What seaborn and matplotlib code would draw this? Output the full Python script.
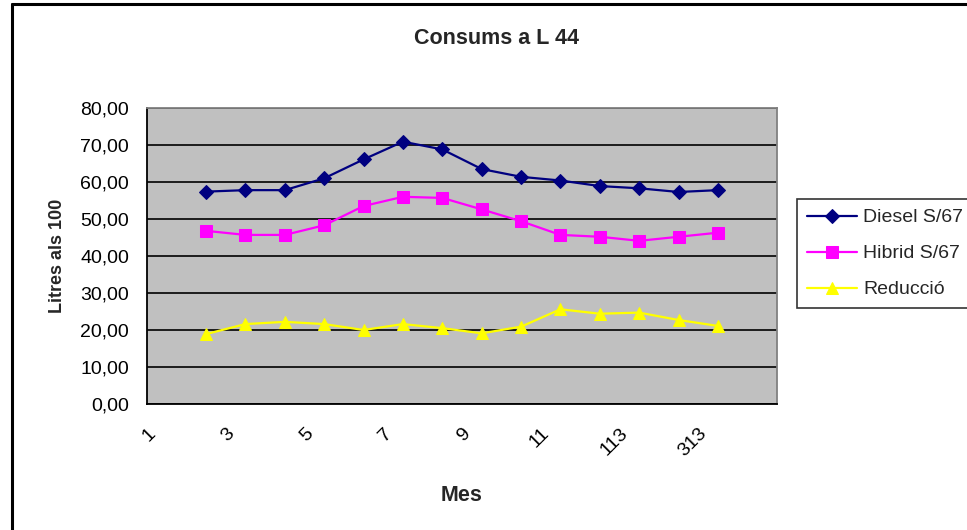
import numpy as np
import pandas as pd
import matplotlib
matplotlib.use("Agg")
import matplotlib.pyplot as plt
from matplotlib.lines import Line2D
from matplotlib.ticker import FuncFormatter, FixedLocator
import seaborn as sns

# Monthly consumption on line 44 (litres per 100 km)
diesel = [57.4, 57.8, 57.8, 61.0, 66.1, 70.9, 68.8, 63.5, 61.4, 60.4, 58.9, 58.3, 57.3, 57.8]
hibrid = [46.8, 45.7, 45.7, 48.3, 53.5, 56.0, 55.7, 52.6, 49.4, 45.7, 45.2, 44.1, 45.2, 46.3]
reduccio = [18.9, 21.6, 22.2, 21.6, 20.0, 21.6, 20.5, 19.1, 20.9, 25.6, 24.4, 24.7, 22.7, 21.1]
series_names = ["Diesel S/67", "Hibrid S/67", "Reducció"]
month_labels = ["1", "3", "5", "7", "9", "11", "113", "313"]

sns.set_theme(style="white")
plt.rcParams["font.family"] = ["Liberation Sans", "DejaVu Sans"]

fig = plt.figure(figsize=(9.67, 5.30), dpi=100)
ax = fig.add_axes([147 / 967, 1 - 404 / 530, 630 / 967, 296 / 530])

n_cat = len(diesel) + 2
xpos = np.arange(len(diesel)) + 1.5

styles = [
    (diesel, "#000080", "D", 7),
    (hibrid, "#FF00FF", "s", 8),
    (reduccio, "#FFFF00", "^", 8.5),
]
for (vals, col, mk, ms), name in zip(styles, series_names):
    df = pd.DataFrame({"x": xpos, "y": vals})
    sns.lineplot(data=df, x="x", y="y", ax=ax, color=col, marker=mk,
                 markersize=ms, markeredgecolor=col, linewidth=1.6,
                 label=name, legend=False, zorder=3)

ax.set_facecolor("#C0C0C0")
ax.set_xlim(0, n_cat)
ax.set_ylim(0, 80)
ax.set_yticks(np.arange(0, 81, 10))
ax.yaxis.set_major_formatter(FuncFormatter(lambda v, p: f"{v:.2f}".replace(".", ",")))
ax.grid(axis="y", color="black", linewidth=1.2)
ax.set_axisbelow(True)

tick_pos = np.arange(0, n_cat + 1)
tick_txt = [""] * len(tick_pos)
for i, lab in enumerate(month_labels):
    tick_txt[2 * i] = lab
ax.xaxis.set_major_locator(FixedLocator(tick_pos))
ax.set_xticklabels(tick_txt, rotation=45, ha="right", va="top", rotation_mode="anchor")

ax.tick_params(axis="both", direction="out", length=5, width=1.1, color="black",
               labelsize=14, labelcolor="black")
ax.tick_params(axis="y", pad=8)
ax.tick_params(axis="x", pad=10)

for side in ["left", "bottom"]:
    ax.spines[side].set_color("black")
    ax.spines[side].set_linewidth(1.3)
for side in ["top", "right"]:
    ax.spines[side].set_color("#808080")
    ax.spines[side].set_linewidth(1.3)

ax.set_xlabel("Mes", fontsize=15.5, fontweight="bold", labelpad=18)
ax.set_ylabel("Litres als 100", fontsize=13, fontweight="bold", labelpad=10)

fig.text(497 / 967, 1 - 38 / 530, "Consums a L 44", ha="center", va="center",
         fontsize=15.5, fontweight="bold")

leg = ax.legend(loc="upper left", bbox_to_anchor=(797 / 967, 1 - 199 / 530),
                bbox_transform=fig.transFigure, frameon=True, fancybox=False,
                fontsize=14, handlelength=2.6, handletextpad=0.3,
                labelspacing=0.95, borderpad=0.5, borderaxespad=0)
leg.get_frame().set_edgecolor("black")
leg.get_frame().set_linewidth(1.2)
leg.get_frame().set_facecolor("white")

# chart area outline (left and top edges)
fig.add_artist(Line2D([12 / 967, 12 / 967], [0, 1 - 4 / 530], transform=fig.transFigure,
                      color="black", linewidth=2.2))
fig.add_artist(Line2D([12 / 967, 1], [1 - 4 / 530, 1 - 4 / 530], transform=fig.transFigure,
                      color="black", linewidth=2.2))

fig.savefig("out.png", dpi=100)
